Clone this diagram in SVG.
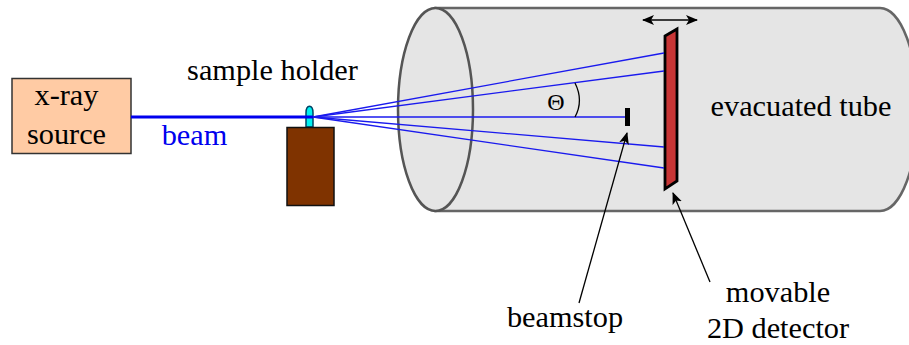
<svg xmlns="http://www.w3.org/2000/svg" width="909" height="345" viewBox="0 0 909 345">
<style>
text{font-family:"Liberation Serif","Times New Roman",serif;font-size:30.300px;fill:#000;text-anchor:middle}
.ray{stroke:#1a1aee;stroke-width:1.3;fill:none}
.ptr{stroke:#000;stroke-width:1.3;fill:none}
</style>
<defs>
<marker id="ah" viewBox="0 0 12 10" refX="11" refY="5" markerWidth="12" markerHeight="10" markerUnits="userSpaceOnUse" orient="auto-start-reverse"><path d="M0,0L12,5L0,10L3,5Z" fill="#000"/></marker>
</defs>
<rect width="909" height="345" fill="#fff"/>
<g id="tube">
<path d="M435.500,8H880A38,101.500 0 0 1 880,211H435.500Z" fill="#e5e5e5" stroke="#666" stroke-width="2.500"/>
<ellipse cx="435.500" cy="109.500" rx="37.500" ry="101.500" fill="#e5e5e5" stroke="#555" stroke-width="2.500"/>
<text x="801" y="116">evacuated tube</text>
</g>
<g id="source">
<rect x="12" y="78.500" width="119" height="75" fill="#ffcba4" stroke="#333" stroke-width="1.500"/>
<text x="66.500" y="105">x-ray</text>
<text x="66.500" y="144">source</text>
</g>
<g id="holder">
<path d="M306,127V113C306,104 313,104 313,113V127Z" fill="#00f0f0" stroke="#046" stroke-width="1.500"/>
<rect x="287" y="127.500" width="47" height="78" fill="#7f3300" stroke="#111" stroke-width="1.500"/>
<text x="272.500" y="80">sample holder</text>
</g>
<g id="detector">
<path d="M665,36L677,29V181L665,189Z" fill="#c83636" stroke="#000" stroke-width="2.800" stroke-linejoin="miter"/>
<text x="778" y="302">movable</text>
<text x="778" y="338.400">2D detector</text>
</g>
<g id="beamstop">
<rect x="625" y="108" width="5" height="18" fill="#000"/>
<text x="565" y="326.500">beamstop</text>
</g>
<g id="connectors">
<path d="M131,117H313" stroke="#0000ee" stroke-width="2.800" fill="none"/>
<path class="ray" d="M313,117L664,53"/>
<path class="ray" d="M313,117L664,71"/>
<path class="ray" d="M313,117H625" style="stroke-width:1.600"/>
<path class="ray" d="M313,117L664,147"/>
<path class="ray" d="M313,117L664,168"/>
<path d="M575,83C581,95 581,106 575,117" stroke="#000" stroke-width="1.300" fill="none"/>
<path class="ptr" d="M643,20H697" style="stroke-width:1.500" marker-start="url(#ah)" marker-end="url(#ah)"/>
<path class="ptr" d="M579,303L627,133" marker-end="url(#ah)"/>
<path class="ptr" d="M710,282L673,193" marker-end="url(#ah)"/>
</g>
<text x="556" y="110" style="font-size:24px">Θ</text>
<text x="194.500" y="145" style="fill:#0000ee">beam</text>
</svg>
